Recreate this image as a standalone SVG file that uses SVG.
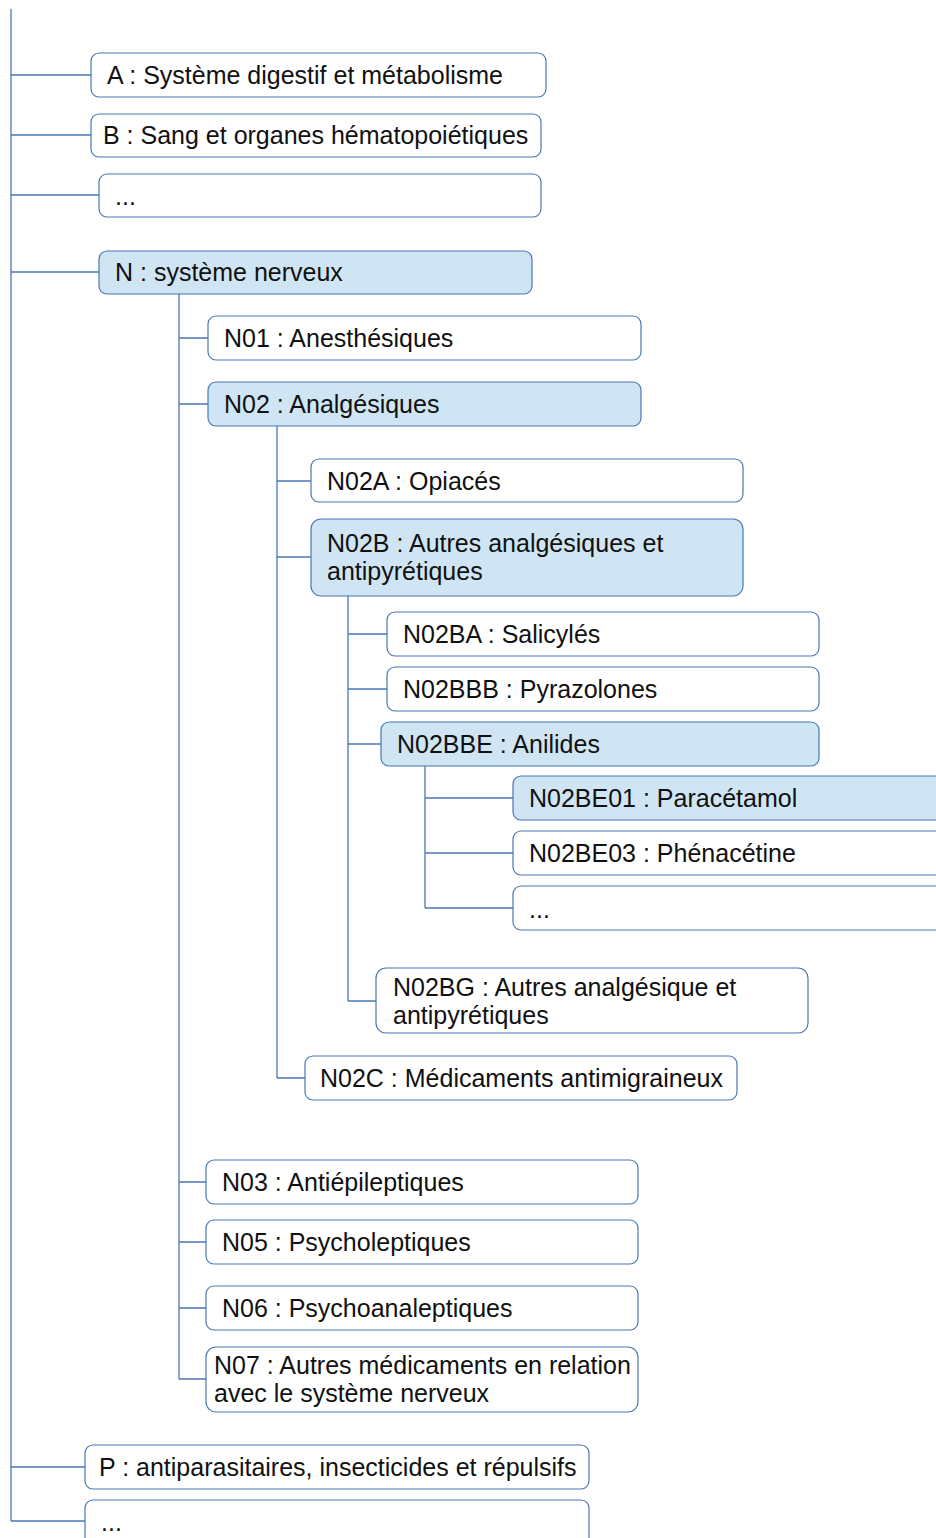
<svg xmlns="http://www.w3.org/2000/svg" width="936" height="1538" viewBox="0 0 936 1538">
<style>
.n rect{fill:#ffffff;stroke:#4a77b4;stroke-width:1.2}
.n.h rect{fill:#cfe5f3}
.n text{font-family:"Liberation Sans",Arial,sans-serif;font-size:25px;fill:#111}
#connectors path{fill:none;stroke:#4a77b4;stroke-width:1.3}
</style>
<rect width="936" height="1538" fill="#ffffff"/>
<g id="connectors">
<path d="M11 9V1521"/>
<path d="M11 75H91M11 135H91M11 195H99M11 272H99M11 1467H85M11 1521H85"/>
<path d="M179 294V1379M179 338H208M179 404H208M179 1182H206M179 1242H206M179 1308H206M179 1379H206"/>
<path d="M277 426V1078M277 481H311M277 557H311M277 1078H305"/>
<path d="M348 596V1001M348 634H387M348 689H387M348 744H381M348 1001H376"/>
<path d="M425 766V908M425 798H513M425 853H513M425 908H513"/>
</g>
<g id="nA" class="n"><rect x="91" y="53" width="455" height="44" rx="8"/><text x="107" y="84">A : Système digestif et métabolisme</text></g>
<g id="nB" class="n"><rect x="91" y="114" width="450" height="43" rx="8"/><text x="103" y="144">B : Sang et organes hématopoiétiques</text></g>
<g id="nDots1" class="n"><rect x="99" y="174" width="442" height="43" rx="8"/><text x="115" y="205">...</text></g>
<g id="nN" class="n h"><rect x="99" y="251" width="433" height="43" rx="8"/><text x="115" y="281">N : système nerveux</text></g>
<g id="nN01" class="n"><rect x="208" y="316" width="433" height="44" rx="8"/><text x="224" y="347">N01 : Anesthésiques</text></g>
<g id="nN02" class="n h"><rect x="208" y="382" width="433" height="44" rx="8"/><text x="224" y="413">N02 : Analgésiques</text></g>
<g id="nN02A" class="n"><rect x="311" y="459" width="432" height="43" rx="8"/><text x="327" y="490">N02A : Opiacés</text></g>
<g id="nN02B" class="n h"><rect x="311" y="519" width="432" height="77" rx="10"/><text x="327" y="552">N02B : Autres analgésiques et</text><text x="327" y="580">antipyrétiques</text></g>
<g id="nN02BA" class="n"><rect x="387" y="612" width="432" height="44" rx="8"/><text x="403" y="643">N02BA : Salicylés</text></g>
<g id="nN02BBB" class="n"><rect x="387" y="667" width="432" height="44" rx="8"/><text x="403" y="698">N02BBB : Pyrazolones</text></g>
<g id="nN02BBE" class="n h"><rect x="381" y="722" width="438" height="44" rx="8"/><text x="397" y="753">N02BBE : Anilides</text></g>
<g id="nN02BE01" class="n h"><rect x="513" y="776" width="440" height="44" rx="8"/><text x="529" y="807">N02BE01 : Paracétamol</text></g>
<g id="nN02BE03" class="n"><rect x="513" y="831" width="440" height="44" rx="8"/><text x="529" y="862">N02BE03 : Phénacétine</text></g>
<g id="nDots2" class="n"><rect x="513" y="886" width="440" height="44" rx="8"/><text x="529" y="918">...</text></g>
<g id="nN02BG" class="n"><rect x="376" y="968" width="432" height="65" rx="10"/><text x="393" y="996">N02BG : Autres analgésique et</text><text x="393" y="1024">antipyrétiques</text></g>
<g id="nN02C" class="n"><rect x="305" y="1056" width="432" height="44" rx="8"/><text x="320" y="1087">N02C : Médicaments antimigraineux</text></g>
<g id="nN03" class="n"><rect x="206" y="1160" width="432" height="44" rx="8"/><text x="222" y="1191">N03 : Antiépileptiques</text></g>
<g id="nN05" class="n"><rect x="206" y="1220" width="432" height="44" rx="8"/><text x="222" y="1251">N05 : Psycholeptiques</text></g>
<g id="nN06" class="n"><rect x="206" y="1286" width="432" height="44" rx="8"/><text x="222" y="1317">N06 : Psychoanaleptiques</text></g>
<g id="nN07" class="n"><rect x="206" y="1347" width="432" height="65" rx="10"/><text x="214" y="1374">N07 : Autres médicaments en relation</text><text x="214" y="1402">avec le système nerveux</text></g>
<g id="nP" class="n"><rect x="85" y="1445" width="504" height="44" rx="8"/><text x="99" y="1476">P : antiparasitaires, insecticides et répulsifs</text></g>
<g id="nDots3" class="n"><rect x="85" y="1500" width="504" height="60" rx="8"/><text x="101" y="1531">...</text></g>
</svg>
